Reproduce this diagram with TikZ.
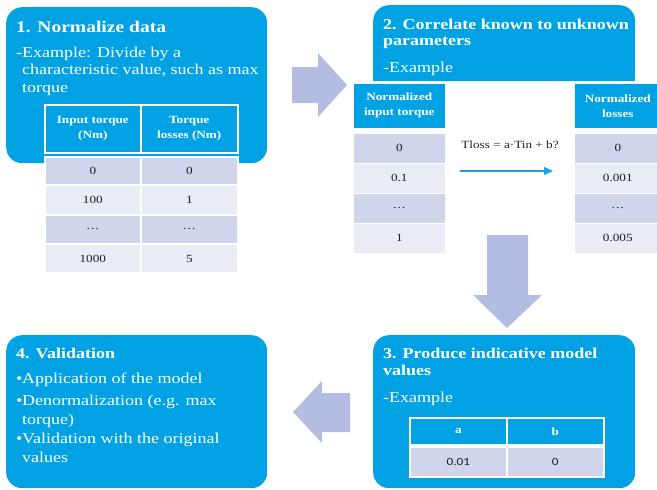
\documentclass[tikz,border=0pt]{standalone}
\usepackage{fontspec}
\setmainfont{Liberation Serif}[FakeStretch=1.2]
\newfontfamily\numsans{Carlito}[FakeStretch=1.2]
\usetikzlibrary{arrows.meta}
\definecolor{boxblue}{RGB}{0,162,228}
\definecolor{rowdark}{RGB}{207,213,234}
\definecolor{rowlight}{RGB}{233,235,245}
\definecolor{arrowfill}{RGB}{178,189,225}
\definecolor{linkblue}{RGB}{26,163,232}
\definecolor{celltext}{RGB}{30,30,30}
\tikzset{
  panel/.style={fill=boxblue, rounded corners=16pt, inner sep=0pt, anchor=north west},
  txt/.style={anchor=base west, inner sep=0pt, text=white},
  ttl/.style={txt, font=\fontsize{15}{17}\selectfont\bfseries},
  bodytxt/.style={txt, font=\fontsize{15}{17.5}\selectfont},
  cellbase/.style={draw=white, line width=1.6pt, inner sep=0pt, anchor=north west, align=center},
  hcell/.style={cellbase, fill=boxblue, text=white, font=\fontsize{11}{15}\selectfont\bfseries},
  dcell/.style={cellbase, fill=rowdark, text=celltext, font=\fontsize{11}{14}\selectfont},
  lcell/.style={dcell, fill=rowlight},
  blockarrow/.style={fill=arrowfill},
  linkarrow/.style={draw=linkblue, line width=1.3pt, -{Triangle[length=9pt,width=8pt]}},
}
\begin{document}
\begin{tikzpicture}[x=1pt,y=-1pt]
\useasboundingbox (0,0) rectangle (657,490);
\clip (0,0) rectangle (657,490);

% ---------- panel 1 ----------
\node[panel, minimum width=261pt, minimum height=156pt] (p1) at (6,7) {};
\node[ttl, font=\fontsize{16.3}{18}\selectfont\bfseries] (p1t) at (16,32) {1. Normalize data};
\node[bodytxt] (p1b) at (16,57) {\parbox[t]{250pt}{\fontsize{15}{17.5}\selectfont
  -Example: Divide by a\\\hspace*{6pt}characteristic value, such as max\\\hspace*{6pt}torque}};

% table 1
\node[hcell, minimum width=96pt, minimum height=48pt] (t1h1) at (44,104) {Input torque\\(Nm)};
\node[hcell, minimum width=97pt, minimum height=48pt] (t1h2) at (140,104) {Torque\\losses (Nm)};
\node[dcell, minimum width=96pt, minimum height=28pt] (t1a1) at (44,156) {0};
\node[dcell, minimum width=97pt, minimum height=28pt] (t1a2) at (140,156) {0};
\node[lcell, minimum width=96pt, minimum height=29pt] (t1b1) at (44,184.5) {100};
\node[lcell, minimum width=97pt, minimum height=29pt] (t1b2) at (140,184.5) {1};
\node[dcell, minimum width=96pt, minimum height=29pt] (t1c1) at (44,214) {\dots};
\node[dcell, minimum width=97pt, minimum height=29pt] (t1c2) at (140,214) {\dots};
\node[lcell, minimum width=96pt, minimum height=28.5pt] (t1d1) at (44,243.5) {1000};
\node[lcell, minimum width=97pt, minimum height=28.5pt] (t1d2) at (140,243.5) {5};

% ---------- panel 2 ----------
\node[panel, minimum width=262pt, minimum height=76pt] (p2) at (373,5) {};
\fill[boxblue] (373,60) rectangle (635,81);
\node[ttl] (p2t) at (383,29) {\parbox[t]{250pt}{\fontsize{15}{16.8}\selectfont\bfseries
  2. Correlate known to unknown\\parameters}};
\node[bodytxt] (p2b) at (383,72.5) {-Example};

% left table 2
\node[hcell, minimum width=93pt, minimum height=46pt] (l2h) at (352,82) {Normalized\\input torque};
\node[dcell, minimum width=93pt, minimum height=30pt] (l2a) at (352,132.5) {0};
\node[lcell, minimum width=93pt, minimum height=30pt] (l2b) at (352,162.5) {0.1};
\node[dcell, minimum width=93pt, minimum height=30pt] (l2c) at (352,192.5) {\dots};
\node[lcell, minimum width=93pt, minimum height=30pt] (l2d) at (352,222.5) {1};

% right table 2
\node[hcell, minimum width=88pt, minimum height=46pt] (r2h) at (573,82) {Normalized\\losses};
\node[dcell, minimum width=88pt, minimum height=30pt] (r2a) at (573,132.5) {0};
\node[lcell, minimum width=88pt, minimum height=30pt] (r2b) at (573,162.5) {0.001};
\node[dcell, minimum width=88pt, minimum height=30pt] (r2c) at (573,192.5) {\dots};
\node[lcell, minimum width=88pt, minimum height=30pt] (r2d) at (573,222.5) {0.005};

% correlation arrow
\node[anchor=base, inner sep=0pt, text=celltext, font=\fontsize{11}{13}\selectfont] (eq) at (510,148) {Tloss = a·Tin + b?};
\coordinate (ms) at (460,171);
\coordinate (me) at (553,171);
\draw[linkarrow] (ms) -- (me);

% ---------- panel 3 ----------
\node[panel, minimum width=262pt, minimum height=153pt] (p3) at (373,335) {};
\node[ttl] (p3t) at (383,358) {\parbox[t]{250pt}{\fontsize{15}{17}\selectfont\bfseries
  3. Produce indicative model\\values}};
\node[bodytxt] (p3b) at (383,402.5) {-Example};
\node[hcell, minimum width=97pt, minimum height=27pt] (t3h1) at (409,417) {a};
\node[hcell, minimum width=97pt, minimum height=27pt] (t3h2) at (506,417) {b};
\node[dcell, minimum width=97pt, minimum height=30pt, font=\fontsize{11}{14}\numsans] (t3a1) at (409,446) {0.01};
\node[dcell, minimum width=97pt, minimum height=30pt, font=\fontsize{11}{14}\numsans] (t3a2) at (506,446) {0};

% ---------- panel 4 ----------
\node[panel, minimum width=261pt, minimum height=153pt] (p4) at (6,335) {};
\node[ttl] (p4t) at (16,358) {4. Validation};
\node[bodytxt] (p4a) at (16,383) {\makebox[6pt][l]{•}Application of the model};
\node[bodytxt] (p4b) at (16,405) {\parbox[t]{250pt}{\fontsize{15}{19}\selectfont
  \makebox[6pt][l]{•}Denormalization (e.g. max\\\hspace*{6pt}torque)}};
\node[bodytxt] (p4c) at (16,443) {\parbox[t]{250pt}{\fontsize{15}{19}\selectfont
  \makebox[6pt][l]{•}Validation with the original\\\hspace*{6pt}values}};

% ---------- block arrows ----------
\fill[blockarrow] (292,67) -- (318,67) -- (318,53) -- (347,85) -- (318,117) -- (318,103) -- (292,103) -- cycle;
\fill[blockarrow] (487,235) -- (528,235) -- (528,295) -- (542,295) -- (507,328) -- (473,295) -- (487,295) -- cycle;
\fill[blockarrow] (350,393) -- (322,393) -- (322,381) -- (293,412) -- (322,443) -- (322,432) -- (350,432) -- cycle;
\end{tikzpicture}
\end{document}
